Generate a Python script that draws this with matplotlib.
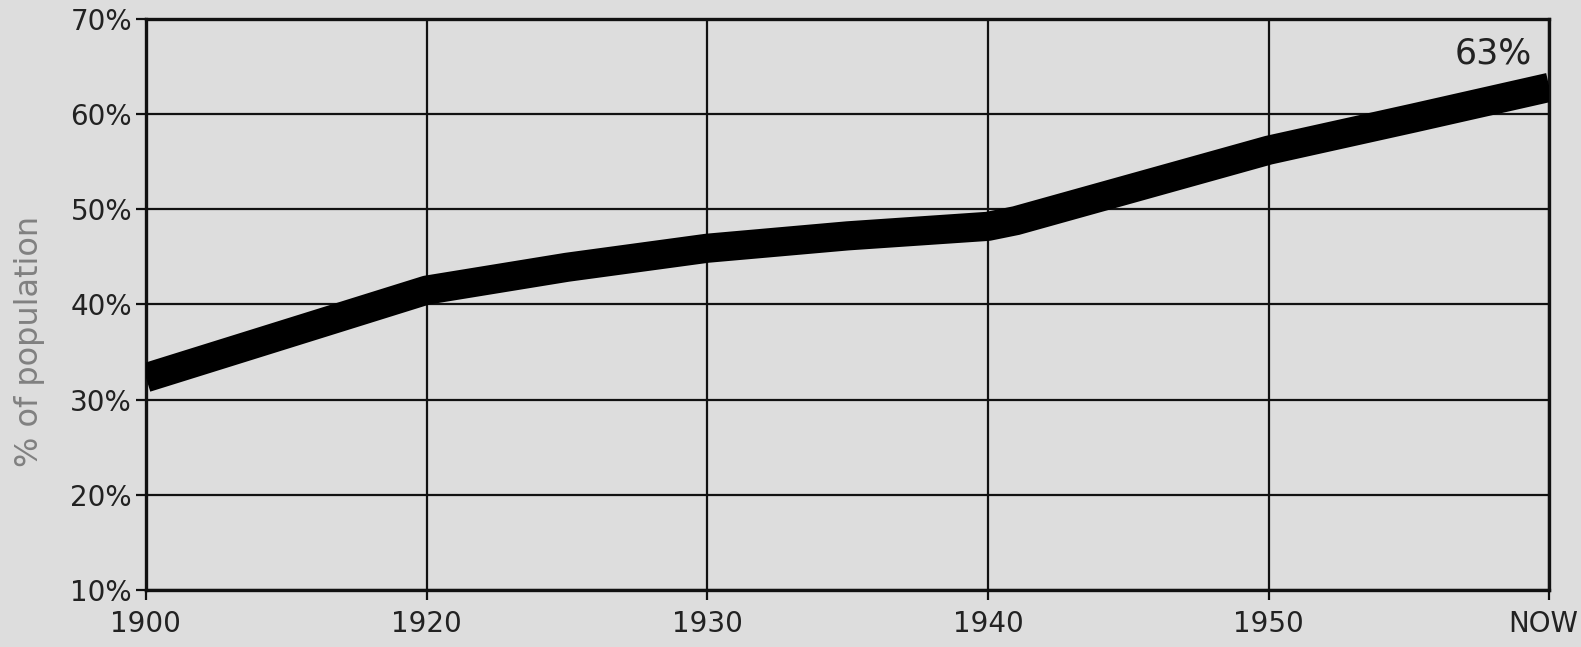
import matplotlib.pyplot as plt
from matplotlib.transforms import ScaledTranslation

# positions on the evenly spaced axis: 0 = 1900, 1 = 1920, ... 5 = NOW
tick_labels = ['1900', '1920', '1930', '1940', '1950', 'NOW']
pos = [0, 1, 1.5, 2, 2.5, 3, 3.1, 4, 4.52, 5]
share = [32.3, 41.5, 43.9, 45.9, 47.2, 48.2, 48.8, 56.2, 59.6, 62.8]
y_ticks = [10, 20, 30, 40, 50, 60, 70]
end_label = '63%'

bg = '#dddddd'
plt.rcParams['font.family'] = ['DejaVu Sans']

fig = plt.figure(figsize=(15.81, 6.47), dpi=100, facecolor=bg)
ax = fig.add_axes([0.0923, 0.088, 0.8877, 0.883])
ax.set_facecolor(bg)

ax.plot(pos, share, color='black', lw=21, solid_capstyle='butt', solid_joinstyle='round', zorder=3)

ax.set_xlim(0, 5)
ax.set_ylim(10, 70)
ax.set_xticks(range(len(tick_labels)))
ax.set_xticklabels(tick_labels)
ax.set_yticks(y_ticks)
ax.set_yticklabels([f'{v}%' for v in y_ticks])

ax.grid(True, color='#111111', lw=1.6, zorder=1)
for s in ax.spines.values():
    s.set_color('#111111')
    s.set_linewidth(2.4)

ax.tick_params(axis='both', length=7, width=1.6, colors='#111111', labelcolor='#222222', labelsize=20)
ax.tick_params(axis='x', pad=7)
ax.tick_params(axis='y', pad=3)

# the last label sits against the right edge, as in the original
now = ax.get_xticklabels()[-1]
now.set_horizontalalignment('right')
now.set_transform(now.get_transform() + ScaledTranslation(0.29, 0, fig.dpi_scale_trans))

ax.set_ylabel('% of population', fontsize=23, color='#808080')
ax.yaxis.set_label_coords(-0.072, 0.436)

ax.text(4.8, 66.4, end_label, fontsize=25, color='#222222', ha='center', va='center')

fig.savefig('out.png', dpi=100, facecolor=bg)
